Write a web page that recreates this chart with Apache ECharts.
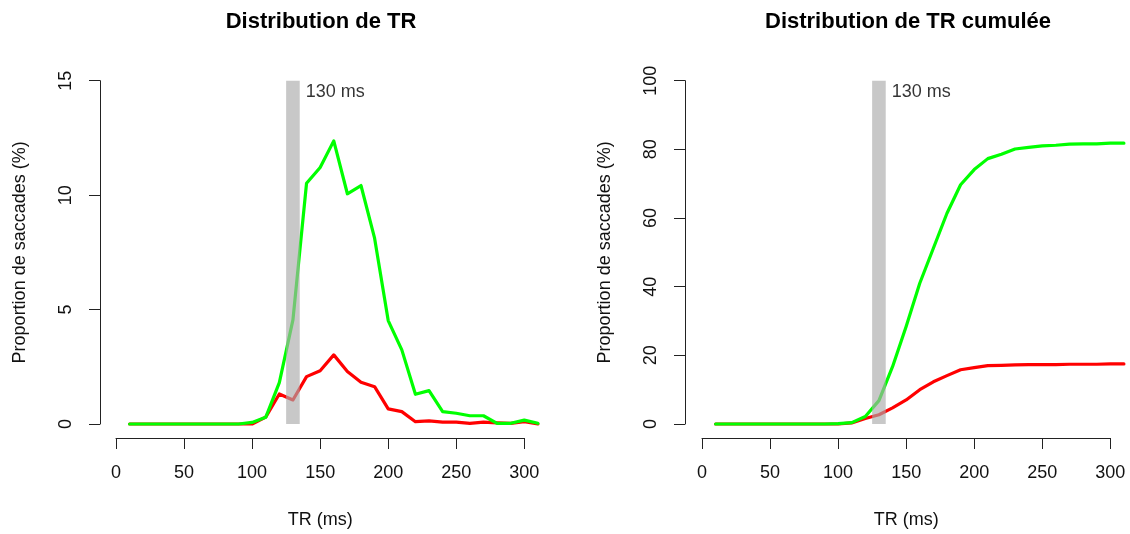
<!DOCTYPE html>
<html>
<head>
<meta charset="utf-8">
<script src="https://cdn.jsdelivr.net/npm/echarts@6/dist/echarts.min.js"></script>
<style>
html,body{margin:0;padding:0;background:#fff;}
#chart{width:1130px;height:534px;}
</style>
</head>
<body>
<div id="chart"></div>
<script>
// ---- data ----
const TR = [10,20,30,40,50,60,70,80,90,100,110,120,130,140,150,160,170,180,190,200,210,220,230,240,250,260,270,280,290,300,310];
const distGreen = [0,0,0,0,0,0,0,0,0,0.07,0.29,1.81,4.55,10.52,11.21,12.37,10.06,10.42,8.12,4.52,3.24,1.30,1.46,0.54,0.47,0.36,0.36,0.03,0.03,0.17,0.03];
const distRed   = [0,0,0,0,0,0,0,0,0,0.00,0.30,1.31,1.05,2.07,2.33,3.02,2.29,1.82,1.63,0.66,0.54,0.10,0.14,0.08,0.08,0.03,0.08,0.05,0.03,0.10,0.00];
const cumGreen  = [0,0,0,0,0,0,0,0,0,0.1,0.4,2.2,6.8,16.7,28.4,41.0,51.2,61.4,69.7,74.1,77.3,78.6,80.1,80.6,81.0,81.2,81.5,81.6,81.6,81.8,81.8];
const cumRed    = [0,0,0,0,0,0,0,0,0,0.0,0.3,1.6,2.7,4.7,7.0,10.0,12.3,14.1,15.8,16.4,17.0,17.1,17.2,17.3,17.3,17.3,17.4,17.4,17.4,17.5,17.5];
const xTicks = [0,50,100,150,200,250,300];
const yTicksLeft = [0,5,10,15];
const yTicksRight = [0,20,40,60,80,100];
const titles = ['Distribution de TR','Distribution de TR cumulée'];
const xName = 'TR (ms)';
const yName = 'Proportion de saccades (%)';
const markerLabel = '130 ms';
const markerRange = [125,135];
const markerLabelPos = [[135,14.5],[135,96.7]];

// ---- chart ----
const FONT = 'Liberation Sans, Arial, Helvetica, sans-serif';
const pairs = (xs, ys) => xs.map((x,i)=>[x, ys[i]]);
const X_DATA_MAX = 312;          // data grid extends past last tick (R-style axis)
const PX_PER_X = 408.3 / 300;    // pixel scale shared by axis grid and data grid

function xAxisDef(gi){
  return {
    gridIndex: gi, type:'value', min: xTicks[0], max: xTicks[xTicks.length-1], interval: 50,
    offset: 14,
    axisLine:{show:true, onZero:false, lineStyle:{color:'#222', width:1}},
    axisTick:{show:true, length:11, inside:false, lineStyle:{color:'#222', width:1}},
    axisLabel:{show:true, fontSize:18, color:'#111', fontFamily:FONT, margin:26},
    splitLine:{show:false},
    name: xName, nameLocation:'middle', nameGap:73,
    nameTextStyle:{fontSize:18, color:'#111', fontFamily:FONT}
  };
}
function yAxisDef(gi, ticks, offset){
  return {
    gridIndex: gi, type:'value', min: ticks[0], max: ticks[ticks.length-1], interval: ticks[1]-ticks[0],
    offset: offset,
    axisLine:{show:true, onZero:false, lineStyle:{color:'#222', width:1}},
    axisTick:{show:true, length:11, inside:false, lineStyle:{color:'#222', width:1}},
    axisLabel:{show:true, fontSize:18, color:'#111', fontFamily:FONT, margin:25, rotate:90},
    splitLine:{show:false},
    name: yName, nameLocation:'middle', nameGap:71,
    nameTextStyle:{fontSize:18, color:'#111', fontFamily:FONT}
  };
}
function hiddenX(gi){
  return {gridIndex:gi, type:'value', min:xTicks[0], max:X_DATA_MAX, show:false, splitLine:{show:false}};
}
function hiddenY(gi, ticks){
  return {gridIndex:gi, type:'value', min:ticks[0], max:ticks[ticks.length-1], show:false, splitLine:{show:false}};
}
function lineSeries(ai, ys, color, z){
  return {
    type:'line', xAxisIndex:ai, yAxisIndex:ai, data: pairs(TR, ys),
    showSymbol:false, symbol:'none', clip:false, z:z,
    lineStyle:{color:color, width:3.2, join:'round', cap:'round'},
    animation:false
  };
}
function barSeries(ai, ymax){
  return {
    type:'custom', xAxisIndex:ai, yAxisIndex:ai, z:5, clip:false,
    data:[[markerRange[0], markerRange[1], 0, ymax]],
    renderItem:function(params, api){
      const p0 = api.coord([api.value(0), api.value(3)]);
      const p1 = api.coord([api.value(1), api.value(2)]);
      return {type:'rect', shape:{x:p0[0], y:p0[1], width:p1[0]-p0[0], height:p1[1]-p0[1]},
              style:{fill:'rgba(170,170,170,0.65)'}};
    },
    animation:false
  };
}
function labelSeries(ai, pos){
  return {
    type:'scatter', xAxisIndex:ai, yAxisIndex:ai, z:6, symbolSize:0.01,
    data:[pos],
    label:{show:true, position:'right', distance:6, formatter:markerLabel,
           fontSize:18, color:'#000', fontFamily:FONT},
    silent:true, animation:false
  };
}

const GT = 80.7, GH = 343.3;
const chart = echarts.init(document.getElementById('chart'), null, {renderer:'canvas'});
chart.setOption({
  backgroundColor:'#ffffff',
  animation:false,
  title:[
    {text:titles[0], left:321, top:11, textAlign:'center', padding:0,
     textStyle:{fontSize:22, fontWeight:'bold', color:'#000', fontFamily:FONT}},
    {text:titles[1], left:908, top:11, textAlign:'center', padding:0,
     textStyle:{fontSize:22, fontWeight:'bold', color:'#000', fontFamily:FONT}}
  ],
  grid:[
    {left:116, top:GT, width:408.3, height:GH},                  // axes, left
    {left:702, top:GT, width:408.3, height:GH},                  // axes, right
    {left:116, top:GT, width:X_DATA_MAX*PX_PER_X, height:GH},    // data, left
    {left:702, top:GT, width:X_DATA_MAX*PX_PER_X, height:GH}     // data, right
  ],
  xAxis:[xAxisDef(0), xAxisDef(1), hiddenX(2), hiddenX(3)],
  yAxis:[yAxisDef(0, yTicksLeft, 16), yAxisDef(1, yTicksRight, 17), hiddenY(2, yTicksLeft), hiddenY(3, yTicksRight)],
  series:[
    lineSeries(2, distRed, '#ff0000', 2),
    lineSeries(2, distGreen, '#00ff00', 3),
    barSeries(2, yTicksLeft[yTicksLeft.length-1]),
    labelSeries(2, markerLabelPos[0]),
    lineSeries(3, cumRed, '#ff0000', 2),
    lineSeries(3, cumGreen, '#00ff00', 3),
    barSeries(3, yTicksRight[yTicksRight.length-1]),
    labelSeries(3, markerLabelPos[1])
  ]
});
</script>
</body>
</html>
